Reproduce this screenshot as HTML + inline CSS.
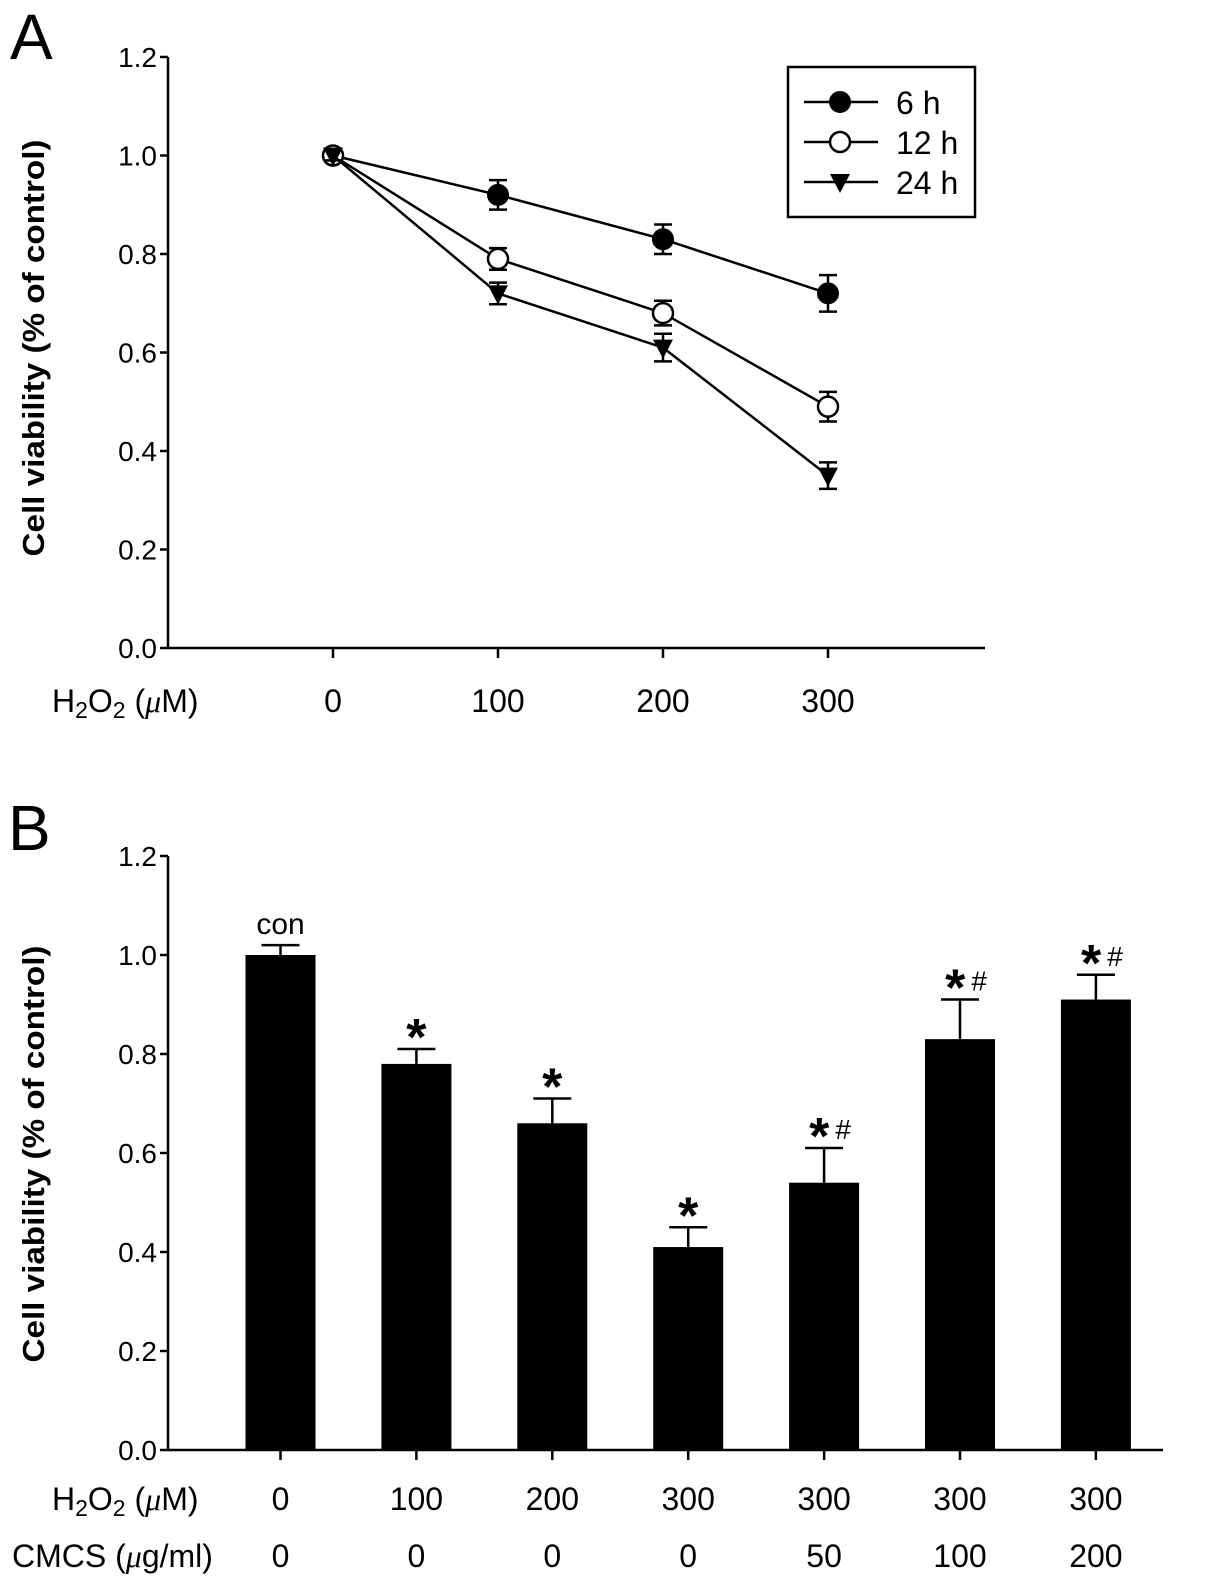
<!DOCTYPE html>
<html><head><meta charset="utf-8">
<style>
html,body{margin:0;padding:0;background:#fff;}
svg{display:block;font-family:"Liberation Sans",Arial,sans-serif;}
</style></head>
<body>
<svg id="fig" width="1205" height="1589" viewBox="0 0 1205 1589" xmlns="http://www.w3.org/2000/svg">
<g id="A"></g>
<g id="B"></g>
</svg>
<script>
// Panel A data
const doses = [0, 100, 200, 300];
const v6 = [1.0, 0.92, 0.83, 0.72];
const e6 = [0.01, 0.03, 0.03, 0.037];
const v12 = [1.0, 0.79, 0.68, 0.49];
const e12 = [0.01, 0.022, 0.025, 0.03];
const v24 = [1.0, 0.72, 0.61, 0.35];
const e24 = [0.01, 0.022, 0.028, 0.027];
const yTicks = [0.0, 0.2, 0.4, 0.6, 0.8, 1.0, 1.2];
const yTickLabels = ["0.0","0.2","0.4","0.6","0.8","1.0","1.2"];
const doseLabels = ["0","100","200","300"];
// Panel B data
const barH2O2 = ["0","100","200","300","300","300","300"];
const barCMCS = ["0","0","0","0","50","100","200"];
const barVals = [1.0, 0.78, 0.66, 0.41, 0.54, 0.83, 0.91];
const barErrs = [0.02, 0.03, 0.05, 0.04, 0.07, 0.08, 0.05];
const barMarks = ["con","*","*","*","*#","*#","*#"];

const NS = "http://www.w3.org/2000/svg";
function mk(parent, tag, attrs, text){
  const e = document.createElementNS(NS, tag);
  for (const k in attrs) e.setAttribute(k, attrs[k]);
  if (text !== undefined) e.textContent = text;
  parent.appendChild(e);
  return e;
}
const A = document.getElementById('A');
const B = document.getElementById('B');
const TICKF = 28, LABF = 32;

// ---------- Panel A ----------
const axA = 168, y0A = 648, y12A = 57;
const yA = v => y0A - v * (y0A - y12A) / 1.2;
const xA = d => 333 + d * 1.65;

let t = mk(A,'text',{x:10,y:59,'font-size':64});


t.textContent='A';

let l = mk(A,'line',{x1:axA,y1:y12A,x2:axA,y2:y0A,stroke:'#000','stroke-width':2.5});
 
l = mk(A,'line',{x1:axA,y1:y0A,x2:985,y2:y0A,stroke:'#000','stroke-width':2.5});
 
yTicks.forEach((v,i)=>{
  const tk = mk(A,'line',{x1:axA-8,y1:yA(v),x2:axA,y2:yA(v),stroke:'#000','stroke-width':2.5});
   
  const tl = mk(A,'text',{x:axA-11,y:yA(v)+10,'font-size':TICKF,'text-anchor':'end'},yTickLabels[i]);
   
});
doses.forEach((d,i)=>{
  const tk = mk(A,'line',{x1:xA(d),y1:y0A,x2:xA(d),y2:y0A+10,stroke:'#000','stroke-width':2.5});
   
  const tl = mk(A,'text',{x:xA(d),y:712,'font-size':LABF,'text-anchor':'middle'},doseLabels[i]);
   
});
let xt = mk(A,'text',{x:52,y:712,'font-size':LABF});
 
xt.innerHTML = 'H<tspan font-size="23" dy="6">2</tspan><tspan dy="-6">O</tspan><tspan font-size="23" dy="6">2</tspan><tspan dy="-6">  (</tspan><tspan font-family="Liberation Serif" font-style="italic">μ</tspan><tspan>M)</tspan>';
let yt = mk(A,'text',{x:0,y:0,'font-size':31,'font-weight':'bold','text-anchor':'middle',transform:'translate(44,348) rotate(-90)',textLength:417,lengthAdjust:'spacingAndGlyphs'},'Cell viability (% of control)');
 

function marker(g, type, cx, cy, r){
  let m;
  if (type==='filled') m = mk(g,'circle',{cx:cx,cy:cy,r:r,fill:'#000',stroke:'#000','stroke-width':2});
  else if (type==='open') m = mk(g,'circle',{cx:cx,cy:cy,r:r,fill:'#fff',stroke:'#000','stroke-width':2.5});
  else m = mk(g,'polygon',{points:`${cx-r},${cy-r*0.8} ${cx+r},${cy-r*0.8} ${cx},${cy+r*1.1}`,fill:'#000'});
  return m;
}
const series = [
  {name:'6h', vals:v6, errs:e6, type:'filled'},
  {name:'12h', vals:v12, errs:e12, type:'open'},
  {name:'24h', vals:v24, errs:e24, type:'tri'}
];
series.forEach(s=>{
  const g = mk(A,'g',{});
   
  const pts = doses.map((d,i)=>xA(d)+','+yA(s.vals[i])).join(' ');
  const pl = mk(g,'polyline',{points:pts,fill:'none',stroke:'#000','stroke-width':2.5});
   
  doses.forEach((d,i)=>{
    const x = xA(d), hi = yA(s.vals[i]+s.errs[i]), lo = yA(s.vals[i]-s.errs[i]);
    const eb = mk(g,'path',{d:`M${x},${hi}V${lo}M${x-9},${hi}H${x+9}M${x-9},${lo}H${x+9}`,stroke:'#000','stroke-width':2.5,fill:'none'});
     
    const m = marker(g, s.type, x, yA(s.vals[i]), 10);
     
  });
});
// legend
const lg = mk(A,'g',{});
 
const lb = mk(lg,'rect',{x:788,y:67,width:187,height:150,fill:'#fff',stroke:'#000','stroke-width':2.5});
 
const legLabels = ['6 h','12 h','24 h'];
series.forEach((s,i)=>{
  const y = 102 + i*40;
  const e = mk(lg,'g',{});
   
  mk(e,'line',{x1:804,y1:y,x2:878,y2:y,stroke:'#000','stroke-width':2.5});
  marker(e, s.type, 840, y, 10);
  mk(e,'text',{x:896,y:y+12,'font-size':32},legLabels[i]);
});

// ---------- Panel B ----------
const axB = 168, y0B = 1450, y12B = 856;
const yB = v => y0B - v * (y0B - y12B) / 1.2;
const xB = i => 280.5 + i * 135.9;

t = mk(B,'text',{x:8,y:850,'font-size':64},'B');
 
l = mk(B,'line',{x1:axB,y1:y12B,x2:axB,y2:y0B,stroke:'#000','stroke-width':2.5});
 
yTicks.forEach((v,i)=>{
  const tk = mk(B,'line',{x1:axB-8,y1:yB(v),x2:axB,y2:yB(v),stroke:'#000','stroke-width':2.5});
   
  const tl = mk(B,'text',{x:axB-11,y:yB(v)+10,'font-size':TICKF,'text-anchor':'end'},yTickLabels[i]);
   
});
barVals.forEach((v,i)=>{
  const x = xB(i);
  const eb = mk(B,'path',{d:`M${x},${yB(v)}V${yB(v+barErrs[i])}M${x-19},${yB(v+barErrs[i])}H${x+19}`,stroke:'#000','stroke-width':2.5,fill:'none'});
   
  const r = mk(B,'rect',{x:x-35,y:yB(v),width:70,height:y0B-yB(v),fill:'#000'});
   
  const tk = mk(B,'line',{x1:x,y1:y0B,x2:x,y2:y0B+10,stroke:'#000','stroke-width':2.5});
   
  const t1 = mk(B,'text',{x:x,y:1510,'font-size':LABF,'text-anchor':'middle'},barH2O2[i]);
   
  const t2 = mk(B,'text',{x:x,y:1567,'font-size':LABF,'text-anchor':'middle'},barCMCS[i]);
   
  const top = yB(v+barErrs[i]);
  const mark = barMarks[i];
  let a;
  if (mark==='con') a = mk(B,'text',{x:x,y:top-11,'font-size':30,'text-anchor':'middle'},'con');
  else if (mark==='*') a = mk(B,'text',{x:x,y:top+6,'font-size':52,'font-weight':'bold','text-anchor':'middle'},'*');
  else {
    a = mk(B,'text',{x:x+6,y:top+6,'font-size':52,'font-weight':'bold','text-anchor':'middle'});
    a.innerHTML = '<tspan>*</tspan><tspan font-size="28" dx="6" dy="-15" font-weight="normal">#</tspan>';
  }
   
});
l = mk(B,'line',{x1:axB,y1:y0B,x2:1163,y2:y0B,stroke:'#000','stroke-width':2.5});
 
xt = mk(B,'text',{x:52,y:1510,'font-size':LABF});
 
xt.innerHTML = 'H<tspan font-size="23" dy="6">2</tspan><tspan dy="-6">O</tspan><tspan font-size="23" dy="6">2</tspan><tspan dy="-6">  (</tspan><tspan font-family="Liberation Serif" font-style="italic">μ</tspan><tspan>M)</tspan>';
xt = mk(B,'text',{x:12,y:1567,'font-size':LABF});
 
xt.innerHTML = 'CMCS (<tspan font-family="Liberation Serif" font-style="italic">μ</tspan>g/ml)';
yt = mk(B,'text',{x:0,y:0,'font-size':31,'font-weight':'bold','text-anchor':'middle',transform:'translate(44,1154) rotate(-90)',textLength:417,lengthAdjust:'spacingAndGlyphs'},'Cell viability (% of control)');
 
</script>
</body></html>
